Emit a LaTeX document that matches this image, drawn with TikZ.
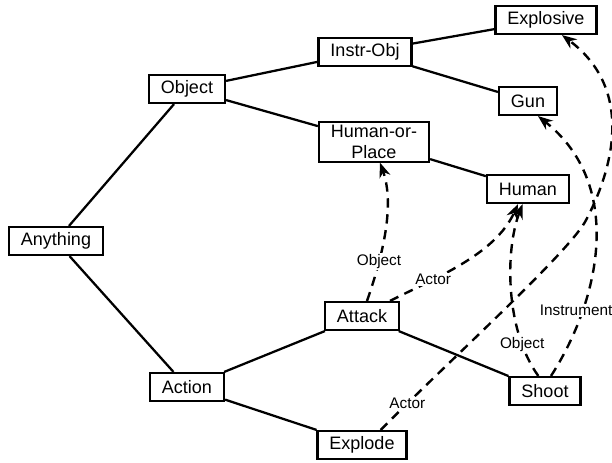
\documentclass[tikz,border=0pt]{standalone}
\usepackage{fontspec}
\setmainfont{Liberation Sans}
\usetikzlibrary{arrows.meta}

\begin{document}
\begin{tikzpicture}[x=0.75pt,y=0.75pt,yscale=-1,xscale=1,
    concept/.style={draw, line width=1.6pt, inner xsep=9pt, inner ysep=2pt, minimum height=21pt, align=center, font=\fontsize{13.5}{16}\selectfont},
    isa/.style={line width=1.7pt},
    slot/.style={line width=1.8pt, dash pattern=on 7pt off 5pt, -{Stealth[length=11pt,width=8.5pt,inset=3.5pt]}},
    slotlabel/.style={fill=white, inner sep=1pt, font=\fontsize{11.5}{13}\selectfont}]
    \useasboundingbox (0,0) rectangle (612,462);

    % Text Node
    \node[concept] (anything) at (56,241) {Anything};
    \node[concept] (object) at (187,89) {Object};
    \node[concept] (action) at (187,387) {Action};
    \node[concept] (instrobj) at (365,52) {Instr-Obj};
    \node[concept] (hop) at (374,142) {Human-or-\\Place};
    \node[concept] (attack) at (362,316) {Attack};
    \node[concept] (explode) at (362,445) {Explode};
    \node[concept] (explosive) at (546,20) {Explosive};
    \node[concept] (gun) at (528,101) {Gun};
    \node[concept] (human) at (528,189) {Human};
    \node[concept] (shoot) at (545,391) {Shoot};

    % Connection
    \draw[isa] (anything) -- (object);
    \draw[isa] (anything) -- (action);
    \draw[isa] (object) -- (instrobj);
    \draw[isa] (object) -- (hop);
    \draw[isa] (instrobj) -- (explosive);
    \draw[isa] (instrobj) -- (gun);
    \draw[isa] (hop) -- (human);
    \draw[isa] (action) -- (attack);
    \draw[isa] (action) -- (explode);
    \draw[isa] (attack) -- (shoot);

    % Slot
    \draw[slot] ([xshift=3.75pt]attack.north) .. controls (383,255) and (395,205) .. ([xshift=4.5pt]hop.south) node[slotlabel, pos=0.28] {Object};
    \draw[slot] ([xshift=21pt]attack.north) .. controls (435,278) and (495,255) .. ([xshift=-7.5pt]human.south) node[slotlabel, pos=0.3] {Actor};
    \draw[slot] ([xshift=-5pt]shoot.north) .. controls (505,330) and (505,250) .. ([xshift=-4pt]human.south) node[slotlabel, pos=0.2] {Object};
    \draw[slot] ([xshift=4.5pt]shoot.north) .. controls (600,300) and (625,185) .. ([xshift=7.5pt]gun.south) node[slotlabel, pos=0.26, xshift=-5pt] {Instrument};
    \draw[slot] ([xshift=14pt]explode.north) .. controls (450,360) and (565,256) .. (585,222) node[slotlabel, pos=0.12] {Actor} .. controls (605,185) and (642,95) .. ([xshift=12pt]explosive.south);

\end{tikzpicture}
\end{document}
